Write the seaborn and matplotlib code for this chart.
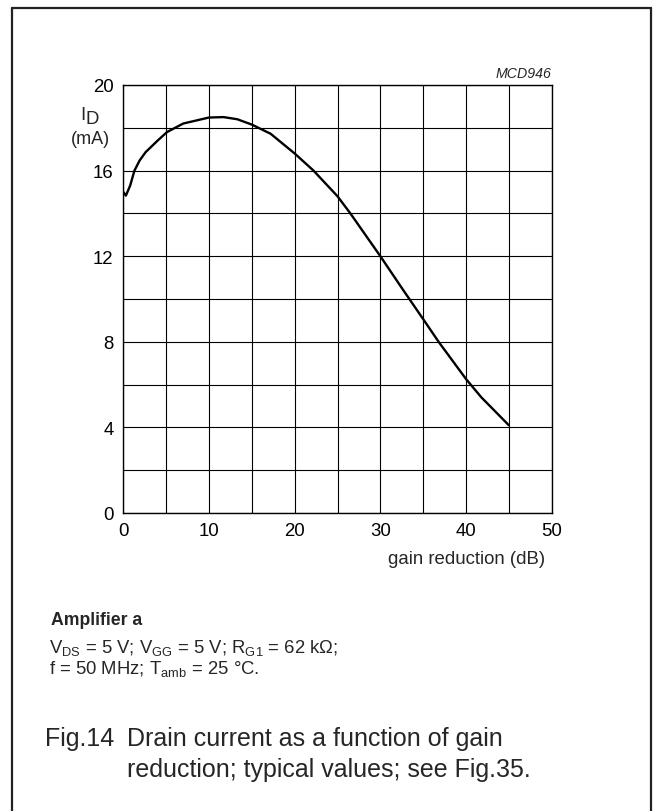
import matplotlib
matplotlib.use("Agg")
import matplotlib.pyplot as plt
from matplotlib.lines import Line2D
from matplotlib.ticker import MultipleLocator
import seaborn as sns
import pandas as pd

# ---- data ----
gain_reduction_db = [0, 0.3, 0.8, 1.3, 1.9, 2.6, 4.0, 5.1, 7.0, 10.0, 11.7, 13.3,
                     15.0, 17.2, 20.0, 22.2, 25.0, 26.5, 30.0, 32.7, 35.0, 36.8,
                     40.0, 41.8, 45.0]
drain_current_ma = [15.0, 14.83, 15.3, 16.0, 16.47, 16.86, 17.4, 17.8, 18.2, 18.48,
                    18.5, 18.4, 18.15, 17.72, 16.8, 16.0, 14.8, 14.0, 12.0, 10.4,
                    9.06, 8.0, 6.26, 5.4, 4.1]
x_ticks = [0, 10, 20, 30, 40, 50]
y_ticks = [0, 4, 8, 12, 16, 20]

df = pd.DataFrame({"gain": gain_reduction_db, "id": drain_current_ma})

sns.set_theme(style="white")
plt.rcParams["font.family"] = ["Liberation Sans", "DejaVu Sans"]
plt.rcParams["mathtext.fontset"] = "custom"
plt.rcParams["mathtext.rm"] = "Liberation Sans"
plt.rcParams["mathtext.it"] = "Liberation Sans:italic"
plt.rcParams["mathtext.bf"] = "Liberation Sans:bold"

W, H = 653, 812
fig = plt.figure(figsize=(W / 100, H / 100), dpi=100)
fig.patch.set_facecolor("white")

def fx(px):
    return px / W

def fy(py):
    return 1 - py / H

left, right, top, bottom = 123.3, 551.7, 86.0, 514.0
ax = fig.add_axes([fx(left), fy(bottom), (right - left) / W, (bottom - top) / H])

sns.lineplot(data=df, x="gain", y="id", ax=ax, color="black", linewidth=1.7,
             estimator=None, sort=False)

ax.set_xlim(0, 50)
ax.set_ylim(0, 20)
ax.set_xticks(x_ticks)
ax.set_yticks(y_ticks)
ax.set_xticklabels([str(v) for v in x_ticks])
ax.set_yticklabels([str(v) for v in y_ticks])
ax.xaxis.set_minor_locator(MultipleLocator(5))
ax.yaxis.set_minor_locator(MultipleLocator(2))
ax.grid(True, which="both", color="black", linewidth=0.8)
ax.set_axisbelow(True)
ax.tick_params(which="both", length=0)
ax.tick_params(axis="x", pad=6.5, labelsize=13.4, colors="black")
ax.tick_params(axis="y", pad=7, labelsize=13.4, colors="black")
ax.set_xlabel("")
ax.set_ylabel("")
for s in ax.spines.values():
    s.set_color("black")
    s.set_linewidth(1.0)

# axis labels
fig.text(fx(545), fy(564), "gain reduction (dB)", ha="right", va="baseline", fontsize=13.4)
fig.text(fx(80.5), fy(120), "I", ha="left", va="baseline", fontsize=13.4)
fig.text(fx(85), fy(124), "D", ha="left", va="baseline", fontsize=13.4)
fig.text(fx(90.5), fy(143.5), "(mA)", ha="center", va="baseline", fontsize=13.0)
fig.text(fx(551), fy(77.5), "MCD946", ha="right", va="baseline", fontsize=10.2, style="italic")

# notes
fig.text(fx(51), fy(625), "Amplifier a", ha="left", va="baseline", fontsize=12.7, fontweight="bold")
fig.text(fx(49), fy(653),
         r"V$_{\mathrm{DS}}$ = 5 V; V$_{\mathrm{GG}}$ = 5 V; R$_{\mathrm{G1}}$ = 62 k$\Omega$;",
         ha="left", va="baseline", fontsize=13.3)
fig.text(fx(49), fy(674), r"f = 50 MHz; T$_{\mathrm{amb}}$ = 25 °C.",
         ha="left", va="baseline", fontsize=13.3)

# caption
fig.text(fx(45), fy(746.5), "Fig.14", ha="left", va="baseline", fontsize=18)
fig.text(fx(127), fy(746.5), "Drain current as a function of gain",
         ha="left", va="baseline", fontsize=18)
fig.text(fx(127), fy(777), "reduction; typical values; see Fig.35.",
         ha="left", va="baseline", fontsize=18)

# frame (left, top, right)
fig.add_artist(Line2D([fx(11.5), fx(11.5)], [fy(H + 2), fy(9)], color="#222222", lw=1.6))
fig.add_artist(Line2D([fx(11.5), fx(651)], [fy(9), fy(9)], color="#222222", lw=1.6))
fig.add_artist(Line2D([fx(651), fx(651)], [fy(9), fy(H + 2)], color="#222222", lw=1.6))

fig.savefig("out.png", dpi=100, facecolor="white")
